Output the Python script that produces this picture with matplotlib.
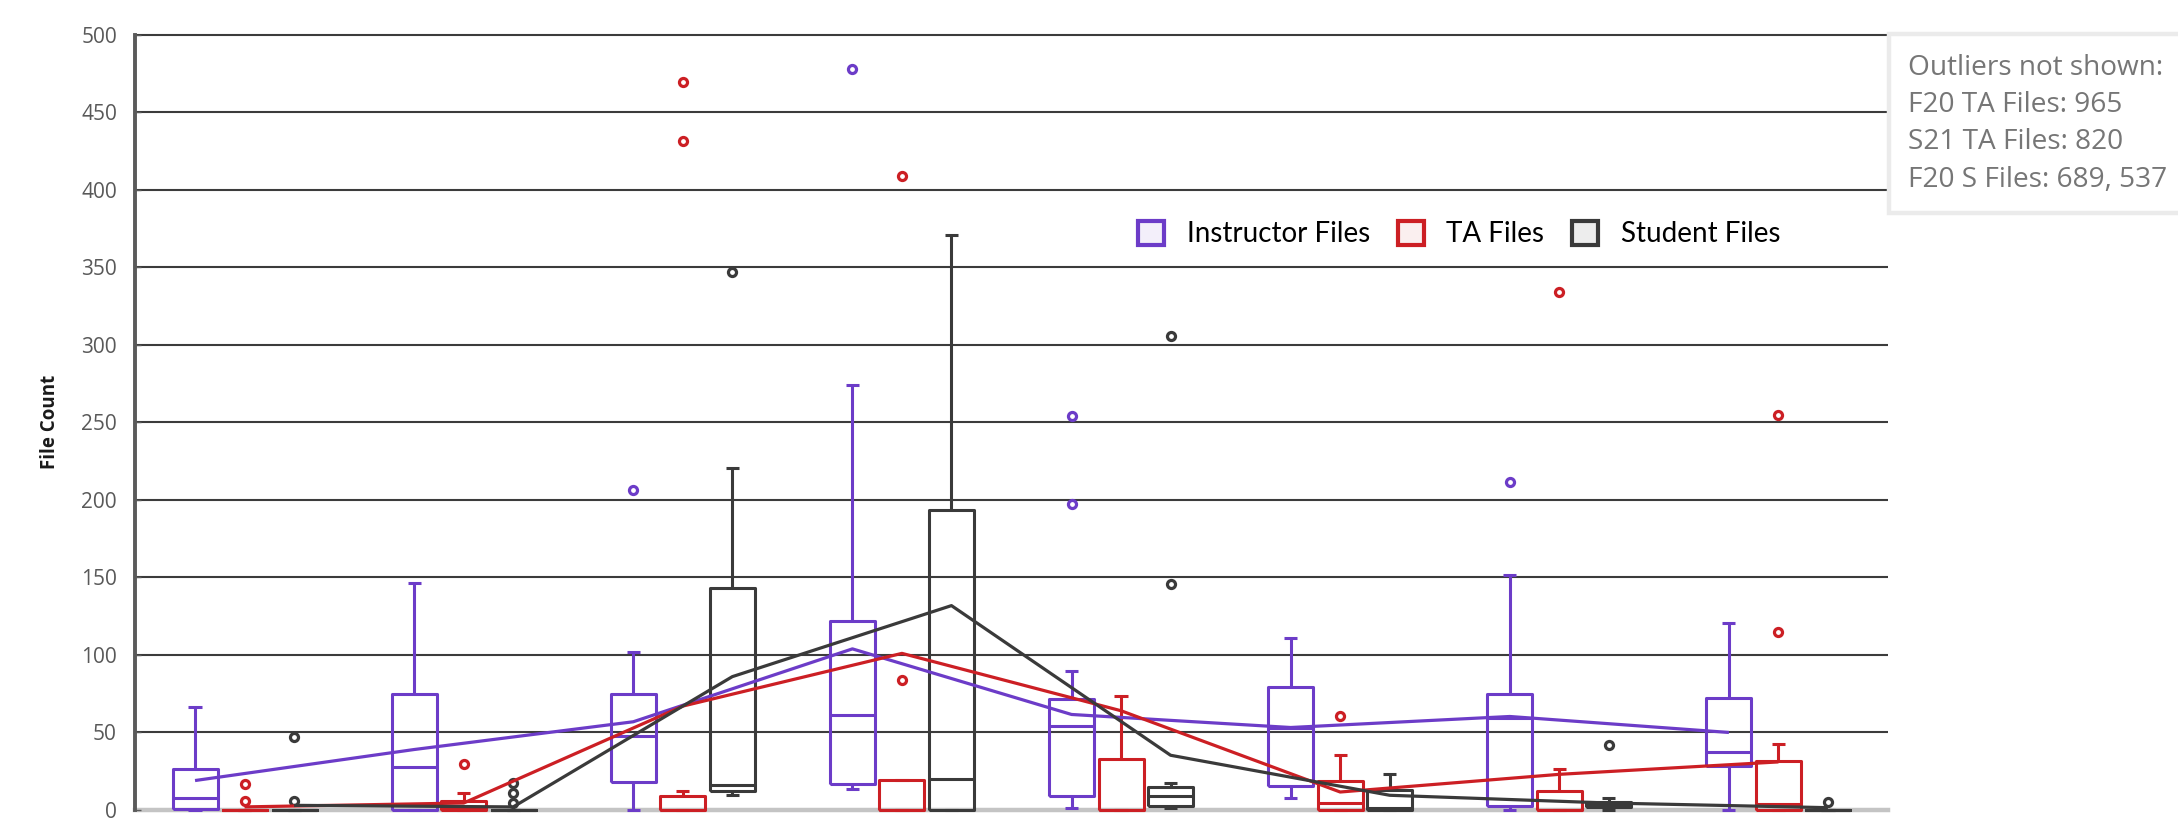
import matplotlib
matplotlib.use('Agg')
import matplotlib.pyplot as plt
from matplotlib.patches import Patch, Rectangle

plt.rcParams['font.family'] = ['Open Sans', 'DejaVu Sans']

# ---------------- data ----------------
series_names = ['Instructor Files', 'TA Files', 'Student Files']
n_groups = 8

inst_whislo = [0, 0, 0, 13.4, 1, 7.5, 0, 0]
inst_q1 = [0.5, 0, 18.3, 16.5, 9, 15.5, 2.6, 28.4]
inst_med = [7.5, 28, 47.8, 61.4, 53.9, 52.8, 59.3, 37.7]
inst_q3 = [26.7, 75, 74.8, 122, 71.3, 79, 74.6, 72.4]
inst_whishi = [66.6, 146.5, 101.7, 274, 89.9, 111, 151.7, 120.7]
inst_fliers = [[], [], [206.6], [478], [254, 197.3], [], [211.8], []]
inst_mean = [19, 39, 56.9, 103.9, 61.6, 53.2, 60.3, 50]

ta_whislo = [0, 0, 0, 0, 0, 0, 0, 0]
ta_q1 = [0, 0, 0, 0, 0, 0, 0, 0]
ta_med = [0, 1.5, 0, 0, 0, 4.5, 0, 3.7]
ta_q3 = [0, 5.8, 8.8, 19.4, 33, 18.8, 12.5, 31.9]
ta_whishi = [0, 10.8, 12.5, 19.4, 73.5, 35.6, 26.5, 42.5]
ta_fliers = [[16.6, 5.6], [29.7], [469.5, 431.4], [409, 83.8], [], [60.8], [334], [255, 115]]
ta_mean = [2, 4.5, 67, 101, 64, 11.6, 23, 31]

st_whislo = [0, 0, 9.7, 0, 1, 0, 0, 0]
st_q1 = [0, 0, 12.3, 0, 2.6, 0, 2, 0]
st_med = [0, 0, 16.2, 20.3, 9, 1, 3.5, 0]
st_q3 = [0, 0, 143, 193.6, 14.9, 13.1, 5, 0]
st_whishi = [0, 0, 220.7, 371, 17.7, 23.5, 7.5, 0]
st_fliers = [[46.8, 5.6], [17.5, 11, 4.5], [347], [], [305.5, 145.9], [], [41.8], [5.4]]
st_mean = [3, 2, 86, 131.8, 35.3, 9.5, 4.5, 1.5]

yticks = list(range(0, 501, 50))
note_lines = ['Outliers not shown:', 'F20 TA Files: 965', 'S21 TA Files: 820', 'F20 S Files: 689, 537']

colors = ['#6C3CC8', '#CC1F24', '#3A3A3A']
light = ['#F3EFFA', '#FAEFEF', '#EDEDED']

# ---------------- figure ----------------
W, H = 2178, 835
fig = plt.figure(figsize=(W / 100, H / 100), dpi=100)
x0, x1, y0, y1 = 135, 1888, 810, 34.6
ax = fig.add_axes([x0 / W, 1 - y0 / H, (x1 - x0) / W, (y0 - y1) / H])
ax.set_xlim(-0.5, n_groups - 0.5)
ax.set_ylim(0, 500)

offset = 0.226
bw = 0.205
all_series = [
    (inst_whislo, inst_q1, inst_med, inst_q3, inst_whishi, inst_fliers, inst_mean),
    (ta_whislo, ta_q1, ta_med, ta_q3, ta_whishi, ta_fliers, ta_mean),
    (st_whislo, st_q1, st_med, st_q3, st_whishi, st_fliers, st_mean),
]

# gridlines + baseline
ax.hlines(yticks[1:], -0.5, n_groups - 0.5, colors='#3C3C3C', lw=1.5, zorder=1, clip_on=False)
ax.axhline(0, color='#C4C4C4', lw=3.2, zorder=1.5, clip_on=False)

for k, (wlo, q1, med, q3, whi, fl, mn) in enumerate(all_series):
    pos = [i + (k - 1) * offset for i in range(n_groups)]
    stats = []
    for i in range(n_groups):
        stats.append(dict(whislo=wlo[i], q1=q1[i], med=med[i], q3=q3[i],
                          whishi=whi[i], fliers=fl[i], mean=mn[i]))
    c = colors[k]
    lp = dict(color=c, lw=2.2, solid_capstyle='butt')
    arts = ax.bxp(stats, positions=pos, widths=bw, capwidths=0.06,
                  showmeans=False, showfliers=True, patch_artist=False,
                  boxprops=lp, whiskerprops=lp, capprops=lp, medianprops=lp,
                  flierprops=dict(marker='o', markersize=5.8, markeredgewidth=2.3,
                                  markerfacecolor='white', markeredgecolor=c,
                                  linestyle='none'),
                  manage_ticks=False, zorder=2)
    for key in arts:
        for a in arts[key]:
            a.set_clip_on(False)
    ax.plot(pos, mn, color=c, lw=2.3, zorder=2.6, solid_capstyle='butt')

# axes styling
for s in ['top', 'right', 'bottom']:
    ax.spines[s].set_visible(False)
ax.spines['left'].set_color('#5A5A5A')
ax.spines['left'].set_linewidth(2.8)
ax.set_xticks([])
ax.set_yticks(yticks)
ax.set_yticklabels([str(t) for t in yticks])
ax.tick_params(axis='y', direction='in', length=4, width=1, color='#5A5A5A',
               pad=13, labelsize=15, labelcolor='#595959')

fig.text(50 / W, 1 - 422 / H, 'File Count', rotation=90, ha='center', va='center',
         fontsize=13.5, fontweight='bold', color='#1A1A1A')

# legend
handles = [Patch(facecolor=light[k], edgecolor=colors[k], linewidth=3) for k in range(3)]
ax.legend(handles, series_names, loc='center left',
          bbox_to_anchor=(1138 / W, 1 - 234 / H), bbox_transform=fig.transFigure,
          ncol=3, frameon=False, borderpad=0, borderaxespad=0,
          handlelength=0.95, handleheight=0.95, handletextpad=0.8, columnspacing=1.0,
          prop=dict(family=['Lato', 'DejaVu Sans'], size=20))

# note box
fig.patches.append(Rectangle((1889 / W, 1 - 213 / H), (2210 - 1889) / W, (213 - 34) / H,
                             transform=fig.transFigure, facecolor='white',
                             edgecolor='#EBEBEB', lw=3.2, zorder=5))
baselines = [75, 112, 149, 187]
for line, b in zip(note_lines, baselines):
    fig.text(1908 / W, 1 - b / H, line, fontsize=20.2, color='#767676',
             va='baseline', ha='left', zorder=6)

fig.savefig('out.png', dpi=100)
